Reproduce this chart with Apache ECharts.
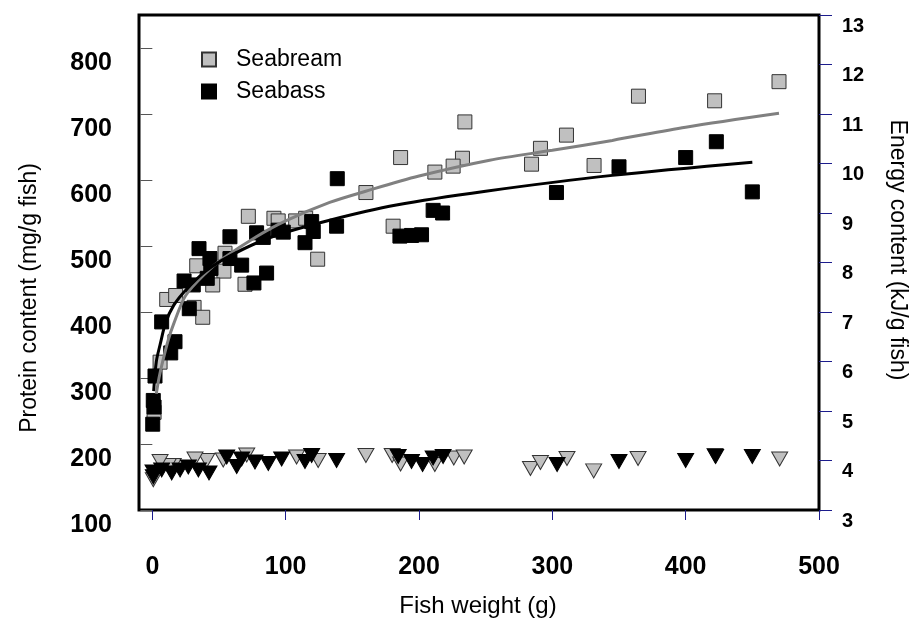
<!DOCTYPE html>
<html>
<head>
<meta charset="utf-8">
<script src="https://cdn.jsdelivr.net/npm/echarts@6/dist/echarts.min.js"></script>
<style>
  html, body { margin: 0; padding: 0; background: #fff; }
  #chart { width: 912px; height: 619px; }
</style>
</head>
<body>
<div id="chart"></div>
<script>
// Protein content (mg/g fish) against fish weight (g)
const breamProteinX = [234.4, 186.2, 232.6, 225.6, 211.9, 160.2, 72, 91.2, 94.4, 107.5, 115, 180.6, 124, 54.5, 33.3, 53.7, 45.3, 69.5, 10.8, 17.5, 31.3, 37.8, 5.8, 1.3, 470, 364.6, 421.7, 310.6, 291.1, 284.4, 331.3];
const breamProteinY = [688, 634, 633, 621, 612, 581, 545, 542, 538, 538, 542, 530, 480, 489, 470, 462, 441, 442, 419, 425, 407, 392, 324, 248, 749, 727, 720, 668, 648, 624, 622];

const bassProteinX = [138.7, 58.2, 78.2, 83.2, 94.4, 98.2, 119.5, 120.7, 114.5, 138.2, 210.6, 217.7, 185.7, 194.4, 201.9, 35, 43.2, 58.2, 67, 44, 85.7, 76.2, 23.8, 30.7, 41.2, 27.7, 7, 17, 13.8, 2, 0.7, 1.3, 0.3, 303.1, 350, 400, 423, 450];
const bassProteinY = [602, 514, 520, 513, 524, 521, 537, 522, 505, 530, 554, 550, 515, 516, 517, 496, 481, 481, 471, 466, 459, 444, 447, 441, 451, 405, 385, 355, 338, 303, 266, 256, 230, 581, 620, 634, 658, 582];

// Energy content (kJ/g fish) against fish weight (g)
const breamEnergyX = [283.6, 291.1, 311, 331, 364.3, 422, 470.5, 160.2, 179.9, 186.2, 211.9, 226.1, 233.9, 124.4, 108.2, 70.8, 53.2, 40.8, 32, 15.7, 12, 5.8, 0.75];
const breamEnergyY = [3.84, 3.96, 4.04, 3.79, 4.04, 4.1, 4.03, 4.1, 4.1, 3.93, 3.92, 4.05, 4.07, 4.0, 4.07, 4.11, 4.01, 4.0, 4.03, 3.9, 3.9, 3.98, 3.61];

const bassEnergyX = [303.6, 350, 400, 422.5, 450, 138.2, 184.4, 194.4, 202.7, 210.6, 218.1, 119.5, 114.5, 97, 87, 77, 63.3, 55.8, 67, 42.5, 34.5, 27, 20.8, 14.5, 7, 0.5, 0.75];
const bassEnergyY = [3.92, 3.98, 4.0, 4.08, 4.08, 4.0, 4.08, 3.98, 3.92, 4.05, 4.08, 4.1, 3.98, 4.03, 3.94, 3.97, 3.88, 4.07, 4.03, 3.75, 3.81, 3.87, 3.81, 3.75, 3.81, 3.77, 3.67];

// Fitted protein curves
const breamFitX = [3, 5, 8, 12, 16, 25, 40, 53, 78, 100, 133, 160, 200, 253, 300, 345, 400, 470];
const breamFitY = [276, 300, 327, 358, 382, 425, 459, 481, 514, 538, 566, 583, 606, 630, 645, 660, 680, 701];
const bassFitX = [1, 3, 6, 10, 16, 25, 40, 60, 90, 133, 183, 250, 345, 450];
const bassFitY = [280, 325, 352, 384, 410, 433, 462, 487, 514, 539, 562, 583, 607, 627];

// Axis ticks
const weightTicks = [0, 100, 200, 300, 400, 500];
const proteinTicks = [100, 200, 300, 400, 500, 600, 700, 800];

const pairs = (xs, ys) => xs.map((x, i) => [x, ys[i]]);

const FONT = "'Liberation Sans', Arial, Helvetica, sans-serif";
const GREY = '#c0c0c0';
const EDGE = '#333333';
const TICK_BLUE = '#1c1c8c';

const chart = echarts.init(document.getElementById('chart'), null, { renderer: 'canvas' });

chart.setOption({
  animation: false,
  backgroundColor: '#ffffff',
  textStyle: { fontFamily: FONT },
  grid: {
    left: 139, top: 15, width: 680, height: 495,
    show: true, borderColor: '#000', borderWidth: 3, backgroundColor: 'transparent'
  },
  legend: {
    orient: 'vertical',
    left: 196, top: 43,
    itemWidth: 14, itemHeight: 14, itemGap: 9,
    icon: 'rect',
    data: ['Seabream', 'Seabass'],
    textStyle: { fontFamily: FONT, fontSize: 23, color: '#000', padding: [0, 0, 0, 15] }
  },
  xAxis: {
    type: 'value', min: -10, max: 500,
    axisLine: { show: false },
    splitLine: { show: false },
    axisTick: { show: true, customValues: weightTicks, length: 10, lineStyle: { color: TICK_BLUE, width: 1 } },
    axisLabel: { customValues: weightTicks, margin: 45, fontFamily: FONT, fontSize: 25, fontWeight: 'bold', color: '#000' }
  },
  yAxis: [
    {
      type: 'value', position: 'left', min: 100, max: 850,
      axisLine: { show: false },
      splitLine: { show: false },
      axisTick: { show: true, customValues: proteinTicks, length: 12, lineStyle: { color: '#555', width: 1 } },
      axisLabel: { customValues: proteinTicks, margin: 27, verticalAlign: 'top', padding: [3, 0, 0, 0],
                   fontFamily: FONT, fontSize: 25, fontWeight: 'bold', color: '#000' }
    },
    {
      type: 'value', position: 'right', min: 3, max: 13, interval: 1,
      axisLine: { show: false },
      splitLine: { show: false },
      axisTick: { show: true, length: 13, lineStyle: { color: TICK_BLUE, width: 1 } },
      axisLabel: { margin: 23, verticalAlign: 'top', padding: [1, 0, 0, 0],
                   fontFamily: FONT, fontSize: 20, fontWeight: 'bold', color: '#000' }
    }
  ],
  graphic: [
    { type: 'text', x: 30, y: 298, rotation: Math.PI / 2,
      style: { text: 'Protein content (mg/g fish)', font: '23px ' + FONT, fill: '#000', align: 'center', verticalAlign: 'middle' } },
    { type: 'text', x: 897, y: 250, rotation: -Math.PI / 2,
      style: { text: 'Energy content (kJ/g fish)', font: '23px ' + FONT, fill: '#000', align: 'center', verticalAlign: 'middle' } },
    { type: 'text', x: 478, y: 606,
      style: { text: 'Fish weight (g)', font: '24px ' + FONT, fill: '#000', align: 'center', verticalAlign: 'middle' } }
  ],
  series: [
    { name: 'Seabream', type: 'scatter', data: pairs(breamProteinX, breamProteinY),
      symbol: 'rect', symbolSize: 14,
      itemStyle: { color: GREY, borderColor: EDGE, borderWidth: 1, opacity: 1 } },
    { name: 'Seabass', type: 'scatter', data: pairs(bassProteinX, bassProteinY),
      symbol: 'rect', symbolSize: 14,
      itemStyle: { color: '#000', borderColor: '#000', borderWidth: 1, opacity: 1 } },
    { name: 'Seabream energy', type: 'scatter', yAxisIndex: 1, data: pairs(breamEnergyX, breamEnergyY),
      symbol: 'triangle', symbolRotate: 180, symbolSize: [16, 14],
      itemStyle: { color: GREY, borderColor: EDGE, borderWidth: 1, opacity: 1 } },
    { name: 'Seabass energy', type: 'scatter', yAxisIndex: 1, data: pairs(bassEnergyX, bassEnergyY),
      symbol: 'triangle', symbolRotate: 180, symbolSize: [16, 14],
      itemStyle: { color: '#000', borderColor: '#000', borderWidth: 1, opacity: 1 } },
    { name: 'Seabream fit', type: 'line', data: pairs(breamFitX, breamFitY),
      smooth: 0.3, showSymbol: false, symbol: 'none', z: 3,
      lineStyle: { color: '#808080', width: 3 } },
    { name: 'Seabass fit', type: 'line', data: pairs(bassFitX, bassFitY),
      smooth: 0.3, showSymbol: false, symbol: 'none', z: 3,
      lineStyle: { color: '#000', width: 3 } }
  ]
});
</script>
</body>
</html>
